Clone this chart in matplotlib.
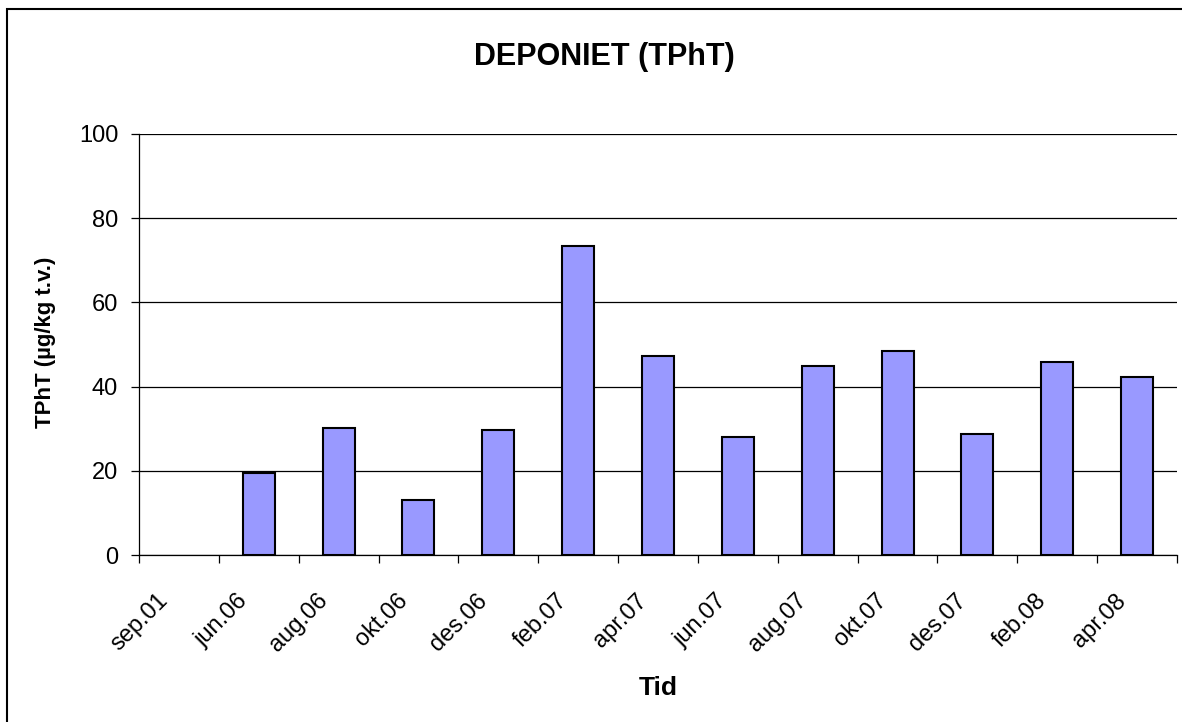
import numpy as np
import matplotlib.pyplot as plt
from matplotlib.patches import Rectangle
import matplotlib.transforms as mtransforms

plt.rcParams['font.family'] = ['Liberation Sans', 'DejaVu Sans']

# Måledata TPhT i deponiet
tid = ['sep.01', 'jun.06', 'aug.06', 'okt.06', 'des.06', 'feb.07', 'apr.07',
       'jun.07', 'aug.07', 'okt.07', 'des.07', 'feb.08', 'apr.08']
tpht = [np.nan, 19.5, 30.1, 13.1, 29.7, 73.4, 47.2,
        28.0, 45.0, 48.5, 28.8, 45.8, 42.2]
yticks = [0, 20, 40, 60, 80, 100]

W, H = 1182, 722
fig = plt.figure(figsize=(W / 100, H / 100), dpi=100)

# plotteområde i pikselkoordinater
x0, x1, ytop, ybot = 139, 1177, 134, 555
ax = fig.add_axes([x0 / W, 1 - ybot / H, (x1 - x0) / W, (ybot - ytop) / H])

x = np.arange(len(tid))
ax.bar(x, tpht, width=0.4, color='#9999ff', edgecolor='black', linewidth=1.5, zorder=3)

ax.set_xlim(-0.5, len(tid) - 0.5)
ax.set_ylim(0, 100)
ax.set_yticks(yticks)
ax.yaxis.grid(True, color='black', linewidth=0.9, zorder=0)
ax.tick_params(axis='y', direction='out', length=6, width=0.9, labelsize=17, pad=9)

# kategorietiketter midt i hver kategori, tikkstreker mellom
ax.set_xticks(x)
ax.set_xticklabels(tid, rotation=45, ha='right', va='top', rotation_mode='anchor', fontsize=17)
ax.tick_params(axis='x', which='major', length=0, pad=25)
offset = mtransforms.ScaledTranslation(-22 / 100, 0, fig.dpi_scale_trans)
for lbl in ax.get_xticklabels():
    lbl.set_transform(lbl.get_transform() + offset)
ax.set_xticks(np.arange(len(tid) + 1) - 0.5, minor=True)
ax.tick_params(axis='x', which='minor', direction='out', length=6, width=0.9)

for s in ['top', 'right']:
    ax.spines[s].set_visible(False)
for s in ['left', 'bottom']:
    ax.spines[s].set_linewidth(0.9)
ax.spines['bottom'].set_zorder(4)

fig.text(604 / W, 1 - 57 / H, 'DEPONIET (TPhT)', ha='center', va='center',
         fontsize=22, fontweight='bold')
fig.text(45 / W, 1 - 342 / H, 'TPhT (µg/kg t.v.)', ha='center', va='center',
         rotation=90, fontsize=16, fontweight='bold')
fig.text(658 / W, 1 - 688 / H, 'Tid', ha='center', va='center',
         fontsize=19, fontweight='bold')

# ramme rundt diagrammet
fig.patches.append(Rectangle((7 / W, -0.05), 1.1, 1 - 9 / H + 0.05,
                             transform=fig.transFigure, fill=False,
                             edgecolor='black', linewidth=1.5))

fig.savefig('out.png', dpi=100)
